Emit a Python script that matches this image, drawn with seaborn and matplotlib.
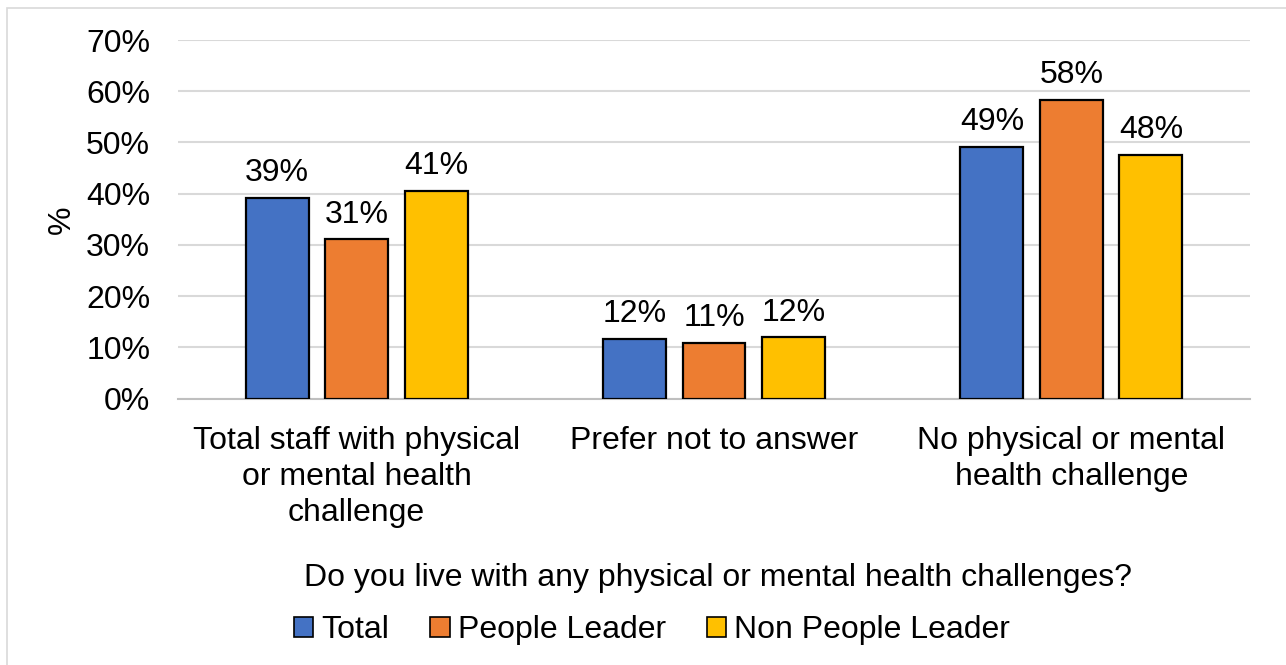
import matplotlib
matplotlib.use("Agg")
import matplotlib.pyplot as plt
from matplotlib.patches import Rectangle, Patch
import pandas as pd
import seaborn as sns

categories = [
    "Total staff with physical\nor mental health\nchallenge",
    "Prefer not to answer",
    "No physical or mental\nhealth challenge",
]
series = ["Total", "People Leader", "Non People Leader"]
total = [39.2, 11.7, 49.2]
people_leader = [31.1, 10.8, 58.3]
non_people_leader = [40.6, 11.95, 47.6]
y_ticks = [0, 10, 20, 30, 40, 50, 60, 70]
colors = ["#4472C4", "#ED7D31", "#FFC000"]

rows = []
for name, vals in zip(series, [total, people_leader, non_people_leader]):
    for cat, v in zip(categories, vals):
        rows.append({"Category": cat, "Series": name, "Value": v})
df = pd.DataFrame(rows)

sns.set_theme(style="white")
plt.rcParams["font.family"] = ["Liberation Sans", "DejaVu Sans"]
plt.rcParams["text.color"] = "black"
plt.rcParams["xtick.color"] = "black"
plt.rcParams["ytick.color"] = "black"

FS = 23
W, H = 1286, 665
fig = plt.figure(figsize=(W / 100, H / 100), dpi=100)
fig.patch.set_facecolor("white")

# thin frame along the top and left of the chart area
fig.patches.append(Rectangle((7 / W, -0.2), 1.5, 1.2 - 8 / H, transform=fig.transFigure,
                             fill=False, edgecolor="#D9D9D9", linewidth=1.2))

left, right, top, bottom = 178, 1250, 40, 398.5
ax = fig.add_axes([left / W, 1 - bottom / H, (right - left) / W, (bottom - top) / H])

sns.barplot(data=df, x="Category", y="Value", hue="Series", order=categories,
            hue_order=series, palette=dict(zip(series, colors)), saturation=1,
            width=0.6675, gap=0.21, edgecolor="black", linewidth=1.6, ax=ax,
            legend=False, zorder=3)

for cont in ax.containers:
    ax.bar_label(cont, fmt=lambda v: f"{v:.0f}%", padding=7, fontsize=FS,
                 color="black")

ax.set_ylim(0, 70)
ax.set_yticks(y_ticks)
ax.set_yticklabels([f"{t}%" for t in y_ticks], fontsize=FS)
ax.yaxis.grid(True, color="#D9D9D9", linewidth=1.5, zorder=0)
ax.set_axisbelow(True)
for s in ["top", "right", "left"]:
    ax.spines[s].set_visible(False)
ax.spines["bottom"].set_color("#BFBFBF")
ax.spines["bottom"].set_linewidth(1.5)
ax.tick_params(axis="y", length=0, pad=20)
ax.tick_params(axis="x", length=0, pad=20, labelsize=FS)
ax.set_xticks(range(len(categories)))
ax.set_xticklabels(categories, fontsize=FS, linespacing=1.25)
ax.set_xlim(-0.5, 2.5)

ax.set_xlabel("")
ax.set_ylabel("")
fig.text(62 / W, 1 - 220 / H, "%", rotation=90, fontsize=FS, ha="center", va="center")
fig.text(718 / W, 1 - 578 / H, "Do you live with any physical or mental health challenges?",
         fontsize=FS, ha="center", va="center")

handles = [Patch(facecolor=c, edgecolor="black", linewidth=1.2) for c in colors]
fig.legend(handles, series, loc="center", bbox_to_anchor=(652 / W, 1 - 630 / H),
           ncol=3, frameon=False, fontsize=FS, handlelength=0.6, handleheight=0.6,
           handletextpad=0.25, columnspacing=1.3)

fig.savefig("out.png", dpi=100, facecolor="white")
